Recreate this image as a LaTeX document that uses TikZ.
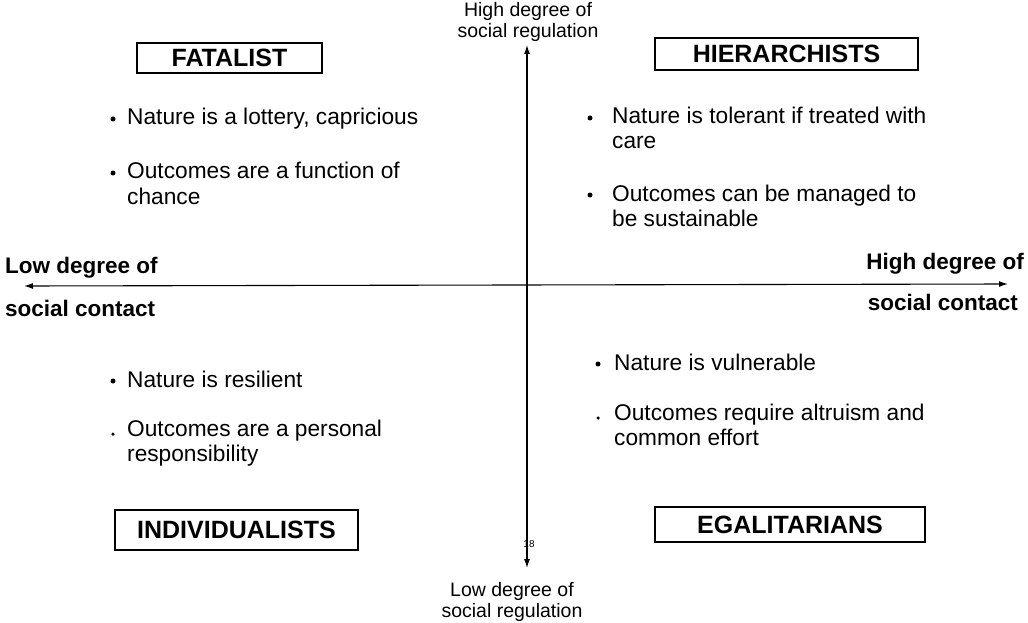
\documentclass[tikz,border=0pt]{standalone}
\usepackage{fontspec}
\setmainfont{Liberation Sans}
\usetikzlibrary{arrows.meta}
\begin{document}
\begin{tikzpicture}[x=1pt,y=-1pt,
  axis/.style={line width=1.1pt,{Latex[length=9pt,width=6pt]}-{Latex[length=9pt,width=6pt]}},
  typebox/.style={draw,line width=1.4pt,inner sep=0pt,font=\fontsize{25}{28}\selectfont\bfseries},
  axislabel/.style={inner sep=0pt,font=\fontsize{22.5}{25}\selectfont\bfseries},
  reglabel/.style={inner sep=0pt,align=center,font=\fontsize{19.5}{20.5}\selectfont},
  item/.style={inner sep=0pt,anchor=base west,align=left,font=\fontsize{22.7}{25}\selectfont},
  dot/.style={circle,fill,inner sep=0pt,minimum size=5pt}]
\useasboundingbox (0,0) rectangle (1028,623);

% axes
\coordinate (ctop) at (527,45);
\coordinate (cbot) at (527,568);
\coordinate (cleft) at (24,286);
\coordinate (cright) at (1008,284);
\draw[axis] (ctop) -- (cbot);
\draw[axis] (cleft) -- (cright);

% axis labels
\node[reglabel] (highreg) at (528,22) {High degree of\\social regulation};
\node[reglabel] (lowreg) at (512,602) {Low degree of\\social regulation};
\node[axislabel,anchor=west] (lowc1) at (5,268) {Low degree of};
\node[axislabel,anchor=west] (lowc2) at (5,308) {social contact};
\node[axislabel,anchor=east] (highc1) at (1024,264) {High degree of};
\node[axislabel,anchor=east] (highc2) at (1018,302) {social contact};
\node[inner sep=0pt,font=\fontsize{10}{12}\selectfont] (pageno) at (529,544) {18};

% cultural types
\node[typebox,minimum width=185pt,minimum height=30pt] (fatalist) at (229.5,58) {FATALIST};
\node[typebox,minimum width=263pt,minimum height=32pt] (hier) at (786.5,54) {HIERARCHISTS};
\node[typebox,minimum width=243pt,minimum height=40pt] (indiv) at (236.5,530) {INDIVIDUALISTS};
\node[typebox,minimum width=270pt,minimum height=35pt] (egal) at (790,524.5) {EGALITARIANS};

% fatalist beliefs (multi-line nodes are placed by their last baseline)
\node[dot] (fb1) at (113,119) {};
\node[item] (ft1) at (127,125) {Nature is a lottery, capricious};
\node[dot] (fb2) at (113,173) {};
\node[item] (ft2) at (127,204) {Outcomes are a function of\\chance};

% hierarchist beliefs
\node[dot] (hb1) at (590,118) {};
\node[item] (ht1) at (612,149) {Nature is tolerant if treated with\\care};
\node[dot] (hb2) at (590,195) {};
\node[item] (ht2) at (612,226) {Outcomes can be managed to\\be sustainable};

% individualist beliefs
\node[dot] (ib1) at (113,381) {};
\node[item] (it1) at (127,387) {Nature is resilient};
\node[dot,minimum size=3.5pt] (ib2) at (113,434) {};
\node[item] (it2) at (127,461) {Outcomes are a personal\\responsibility};

% egalitarian beliefs
\node[dot] (eb1) at (598,364) {};
\node[item] (et1) at (614,370) {Nature is vulnerable};
\node[dot,minimum size=3.5pt] (eb2) at (598,418) {};
\node[item] (et2) at (614,445) {Outcomes require altruism and\\common effort};
\end{tikzpicture}
\end{document}
